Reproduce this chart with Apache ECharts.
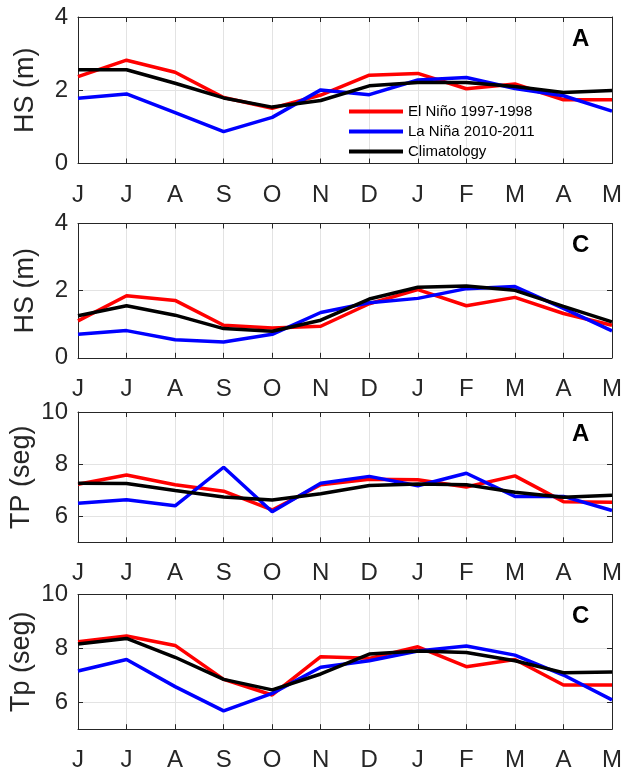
<!DOCTYPE html>
<html>
<head>
<meta charset="utf-8">
<script src="https://cdn.jsdelivr.net/npm/echarts@6/dist/echarts.min.js"></script>
<style>
  html, body { margin: 0; padding: 0; background: #ffffff; }
  #chart { width: 623px; height: 768px; }
</style>
</head>
<body>
<div id="chart"></div>
<script>
// Month initials, June through May
const months = ['J', 'J', 'A', 'S', 'O', 'N', 'D', 'J', 'F', 'M', 'A', 'M'];

// Series names
const nameNino = 'El Niño 1997-1998';
const nameNina = 'La Niña 2010-2011';
const nameClim = 'Climatology';

// Significant wave height (m), site A
const hsA_nino = [2.37, 2.82, 2.49, 1.80, 1.51, 1.87, 2.41, 2.46, 2.04, 2.17, 1.74, 1.74];
const hsA_nina = [1.78, 1.90, 1.39, 0.87, 1.26, 2.01, 1.88, 2.28, 2.35, 2.05, 1.85, 1.43];
const hsA_clim = [2.56, 2.56, 2.19, 1.79, 1.54, 1.72, 2.12, 2.21, 2.21, 2.10, 1.94, 1.99];

// Significant wave height (m), site C
const hsC_nino = [1.10, 1.85, 1.71, 0.97, 0.89, 0.94, 1.61, 2.03, 1.55, 1.80, 1.32, 0.97];
const hsC_nina = [0.70, 0.81, 0.54, 0.47, 0.70, 1.35, 1.64, 1.77, 2.06, 2.12, 1.47, 0.80];
const hsC_clim = [1.25, 1.55, 1.27, 0.87, 0.79, 1.12, 1.75, 2.10, 2.14, 2.01, 1.53, 1.07];

// Peak period (s), site A
const tpA_nino = [7.23, 7.58, 7.21, 6.96, 6.24, 7.21, 7.42, 7.40, 7.12, 7.55, 6.56, 6.54];
const tpA_nina = [6.50, 6.63, 6.40, 7.88, 6.17, 7.27, 7.53, 7.17, 7.65, 6.76, 6.76, 6.22];
const tpA_clim = [7.27, 7.26, 6.99, 6.74, 6.62, 6.86, 7.18, 7.24, 7.21, 6.92, 6.73, 6.81];

// Peak period (s), site C
const tpC_nino = [8.25, 8.46, 8.11, 6.85, 6.27, 7.69, 7.63, 8.06, 7.32, 7.59, 6.64, 6.64];
const tpC_nina = [7.16, 7.59, 6.58, 5.68, 6.33, 7.30, 7.54, 7.90, 8.09, 7.75, 7.01, 6.09];
const tpC_clim = [8.16, 8.37, 7.67, 6.85, 6.46, 7.05, 7.79, 7.90, 7.85, 7.54, 7.10, 7.12];

// Y tick labels
const hsTicks = [0, 2, 4];
const tpTicks = [6, 8, 10];

const FONT = "'Liberation Sans', Arial, Helvetica, sans-serif";
const AX = '#262626';
const GRIDC = '#e3e3e3';

const panels = [
  { top: 17,    height: 146.5, min: 0, max: 4,  ticks: hsTicks, yName: 'HS (m)',   tag: 'A', gap: 39,
    data: [hsA_nino, hsA_nina, hsA_clim] },
  { top: 223.5, height: 134.3, min: 0, max: 4,  ticks: hsTicks, yName: 'HS (m)',   tag: 'C', gap: 39,
    data: [hsC_nino, hsC_nina, hsC_clim] },
  { top: 412,   height: 130.3, min: 5, max: 10, ticks: tpTicks, yName: 'TP (seg)', tag: 'A', gap: 43,
    data: [tpA_nino, tpA_nina, tpA_clim] },
  { top: 594.5, height: 134.7, min: 5, max: 10, ticks: tpTicks, yName: 'Tp (seg)', tag: 'C', gap: 43,
    data: [tpC_nino, tpC_nina, tpC_clim] }
];

const names = [nameNino, nameNina, nameClim];
const colors = ['#ff0000', '#0000ff', '#000000'];

const grid = [], xAxis = [], yAxis = [], series = [], title = [];

panels.forEach((p, i) => {
  grid.push({ left: 78, width: 534, top: p.top, height: p.height, outerBoundsMode: 'none', containLabel: false });

  // bottom month axis with labels and vertical grid lines
  xAxis.push({
    type: 'category', gridIndex: i, data: months, boundaryGap: false, position: 'bottom',
    axisLine: { show: true, lineStyle: { color: AX, width: 1 } },
    axisTick: { show: true, inside: true, length: 5, lineStyle: { color: AX } },
    axisLabel: { show: true, margin: 19.5, color: AX, fontSize: 24, fontFamily: FONT, interval: 0 },
    splitLine: { show: true, interval: 0, lineStyle: { color: GRIDC, width: 1 } }
  });
  // top frame edge with inward ticks
  xAxis.push({
    type: 'category', gridIndex: i, data: months, boundaryGap: false, position: 'top',
    axisLine: { show: true, onZero: false, lineStyle: { color: AX, width: 1 } },
    axisTick: { show: true, inside: true, length: 5, interval: 0, lineStyle: { color: AX } },
    axisLabel: { show: false },
    splitLine: { show: false }
  });

  const tickOpts = p.min === 0 ? { interval: 2 } : {};
  const custom = p.min === 0 ? undefined : p.ticks;

  // left value axis with labels and horizontal grid lines
  yAxis.push(Object.assign({
    type: 'value', gridIndex: i, min: p.min, max: p.max, position: 'left',
    name: p.yName, nameLocation: 'middle', nameGap: p.gap, nameRotate: 90,
    nameMoveOverlap: false,
    nameTextStyle: { color: AX, fontSize: 27, fontFamily: FONT },
    axisLine: { show: true, onZero: false, lineStyle: { color: AX, width: 1 } },
    axisTick: { show: true, inside: true, length: 5, lineStyle: { color: AX }, customValues: custom },
    axisLabel: { show: true, margin: 10, color: AX, fontSize: 24, fontFamily: FONT,
                 padding: [6, 0, 0, 0], customValues: custom },
    splitLine: { show: true, lineStyle: { color: GRIDC, width: 1 } }
  }, tickOpts));
  // right frame edge with inward ticks
  yAxis.push(Object.assign({
    type: 'value', gridIndex: i, min: p.min, max: p.max, position: 'right',
    axisLine: { show: true, onZero: false, lineStyle: { color: AX, width: 1 } },
    axisTick: { show: true, inside: true, length: 5, lineStyle: { color: AX }, customValues: custom },
    axisLabel: { show: false },
    splitLine: { show: false }
  }, tickOpts));

  p.data.forEach((d, k) => {
    series.push({
      type: 'line', name: names[k], xAxisIndex: 2 * i, yAxisIndex: 2 * i,
      data: d, symbol: 'none', showSymbol: false,
      lineStyle: { color: colors[k], width: 3.5 },
      itemStyle: { color: colors[k] },
      z: 3 + k
    });
  });

  title.push({
    text: p.tag, left: 567, top: p.top + 5,
    textStyle: { fontSize: 24, fontWeight: 'bold', color: '#000', fontFamily: FONT }
  });
});

const chart = echarts.init(document.getElementById('chart'), null, { renderer: 'canvas' });
chart.setOption({
  animation: false,
  backgroundColor: '#ffffff',
  title: title,
  legend: {
    data: names, orient: 'vertical', left: 344, top: 99,
    icon: 'rect', itemWidth: 54, itemHeight: 4, itemGap: 5,
    textStyle: { fontSize: 15, color: '#000', fontFamily: FONT, lineHeight: 15 },
    selectedMode: false
  },
  grid: grid,
  xAxis: xAxis,
  yAxis: yAxis,
  series: series
});
</script>
</body>
</html>
